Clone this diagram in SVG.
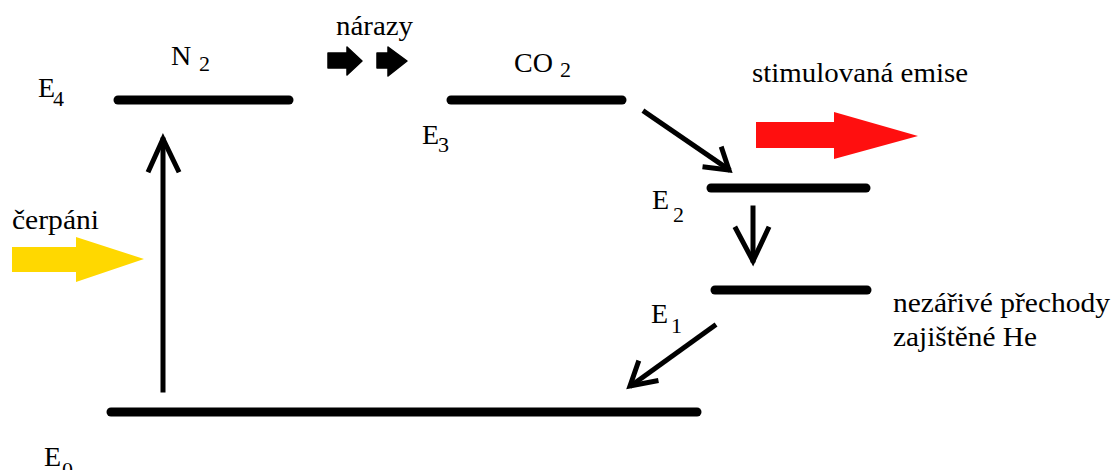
<svg xmlns="http://www.w3.org/2000/svg" width="1118" height="470" viewBox="0 0 1118 470">
<style>
.lvl{stroke:#000;stroke-width:9;stroke-linecap:round;fill:none}
text{fill:#000}
.t{font-size:28px}
.s{font-size:22px}
.ar{stroke:#000;stroke-width:5;fill:none;stroke-linecap:square;stroke-linejoin:miter}
</style>
<rect width="1118" height="470" fill="#fff"/>
<g font-family="Times New Roman, Liberation Serif, Tinos, Noto Serif, DejaVu Serif, serif">
<g id="level-E4-N2">
<line class="lvl" x1="118" y1="100" x2="289" y2="100"/>
<text class="t" x="38" y="97">E</text><text class="s" x="53" y="106">4</text>
<text class="t" x="171" y="65">N</text><text class="s" x="199" y="71">2</text>
</g>
<g id="level-E3-CO2">
<line class="lvl" x1="451" y1="100" x2="622" y2="100"/>
<text class="t" x="422" y="144">E</text><text class="s" x="438" y="152">3</text>
<text class="t" x="514" y="72">CO</text><text class="s" x="560" y="77">2</text>
</g>
<g id="level-E2">
<line class="lvl" x1="711" y1="188" x2="866" y2="188"/>
<text class="t" x="652" y="209">E</text><text class="s" x="673" y="222">2</text>
</g>
<g id="level-E1">
<line class="lvl" x1="715" y1="290" x2="867" y2="290"/>
<text class="t" x="651" y="323">E</text><text class="s" x="671" y="333">1</text>
</g>
<g id="level-E0">
<line class="lvl" x1="111" y1="412" x2="697" y2="412"/>
<text class="t" x="44" y="466">E</text><text class="s" x="62" y="477">0</text>
</g>
<g id="pumping">
<text class="t" x="12" y="229" textLength="87" lengthAdjust="spacingAndGlyphs">čerpáni</text>
<polygon points="12,247 76,247 76,237 144,259 76,282 76,272 12,272" fill="#FFD800"/>
</g>
<g id="collisions">
<text class="t" x="336" y="35" textLength="77" lengthAdjust="spacingAndGlyphs">nárazy</text>
<polygon points="328,53 347,53 347,47 362,61 347,75 347,68 328,68" fill="#000" stroke="#000" stroke-width="1.5" stroke-linejoin="round"/>
<polygon points="377,53 388,53 388,47 407,61 388,76 388,68 377,68" fill="#000" stroke="#000" stroke-width="1.5" stroke-linejoin="round"/>
</g>
<g id="stimulated-emission">
<text class="t" x="752" y="82" textLength="216" lengthAdjust="spacingAndGlyphs">stimulovaná emise</text>
<polygon points="756,122 834,122 834,112 918,136 834,159 834,148 756,148" fill="#FF0F0F"/>
</g>
<g id="nonradiative-label">
<text class="t" x="893" y="312" textLength="217" lengthAdjust="spacingAndGlyphs">nezářivé přechody</text>
<text class="t" x="893" y="346" textLength="144" lengthAdjust="spacingAndGlyphs">zajištěné He</text>
</g>
</g>
<g id="connectors">
<line class="ar" x1="163" y1="390" x2="163" y2="140"/>
<polyline class="ar" points="149,170 163,139 178,170"/>
<line class="ar" x1="645" y1="112" x2="728" y2="169"/>
<polyline class="ar" points="722,149 729,170 705,167"/>
<line class="ar" x1="753" y1="208" x2="753" y2="260"/>
<polyline class="ar" points="736,229 753,261 768,229"/>
<line class="ar" x1="714" y1="326" x2="632" y2="385"/>
<polyline class="ar" points="638,363 630,386 656,381"/>
</g>
</svg>
